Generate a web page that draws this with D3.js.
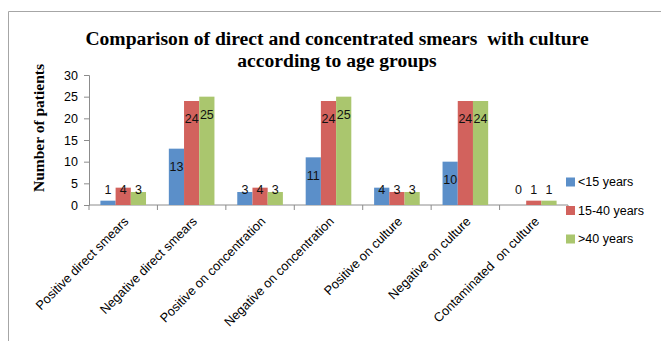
<!DOCTYPE html>
<html>
<head>
<meta charset="utf-8">
<script src="https://cdn.jsdelivr.net/npm/d3@7"></script>
<style>
  body { margin: 0; background: #fff; }
  .tick text { font-family: "Liberation Sans", Arial, sans-serif; }
  text { white-space: pre; }
</style>
</head>
<body>
<svg id="chart" width="661" height="341"></svg>
<script>
var categories = ["Positive direct smears", "Negative direct smears", "Positive on concentration",
  "Negative on concentration", "Positive on culture", "Negative on culture", "Contaminated  on culture"];
var groups = ["<15 years", "15-40 years", ">40 years"];
var under15 = [1, 13, 3, 11, 4, 10, 0];
var age15to40 = [4, 24, 4, 24, 3, 24, 1];
var over40 = [3, 25, 3, 25, 3, 24, 1];
var yTicks = [0, 5, 10, 15, 20, 25, 30];
var colors = ["#5b8fc9", "#d2625d", "#aac66e"];

var series = [under15, age15to40, over40];

var svg = d3.select("#chart");

// frame (right and bottom edges fall outside the picture)
svg.append("path")
    .attr("d", "M8.5,341V11.5H661")
    .attr("fill", "none")
    .attr("stroke", "#a6a6a6");

var x0 = d3.scaleBand().domain(categories).range([89, 568]);
var x1 = d3.scaleBand().domain(groups)
    .range([x0.bandwidth() * 0.75 / 4.5, x0.bandwidth() * 3.75 / 4.5]);
var y = d3.scaleLinear().domain([0, 30]).range([205, 75]);

// title
var title = svg.append("text")
    .attr("text-anchor", "middle")
    .style("font-family", "'Liberation Serif', 'Times New Roman', serif")
    .style("font-weight", "bold")
    .style("font-size", "19.6px")
    .attr("fill", "#000");
title.append("tspan").attr("x", 337).attr("y", 45).text("Comparison of direct and concentrated smears  with culture");
title.append("tspan").attr("x", 337).attr("y", 67).text("according to age groups");

// y axis title
svg.append("text")
    .attr("transform", "translate(44,128) rotate(-90)")
    .attr("text-anchor", "middle")
    .style("font-family", "'Liberation Serif', 'Times New Roman', serif")
    .style("font-weight", "bold")
    .style("font-size", "15.5px")
    .text("Number of patients");

// y axis
var yAxis = svg.append("g")
    .attr("transform", "translate(89,0)")
    .call(d3.axisLeft(y).tickValues(yTicks).tickSize(5).tickPadding(6));
yAxis.select(".domain").attr("stroke", "#8c8c8c");
yAxis.selectAll(".tick line").attr("stroke", "#8c8c8c");
yAxis.selectAll(".tick text").style("font-size", "12.5px").attr("fill", "#000");

// x axis with ticks on category boundaries
var xAxis = svg.append("g").attr("transform", "translate(0,205)");
xAxis.append("line")
    .attr("x1", x0.range()[0]).attr("x2", x0.range()[1])
    .attr("stroke", "#8c8c8c");
xAxis.selectAll(".bound")
    .data(categories.concat([null]))
    .enter().append("line")
    .attr("x1", function(d, i) { return x0.range()[0] + i * x0.step(); })
    .attr("x2", function(d, i) { return x0.range()[0] + i * x0.step(); })
    .attr("y1", 0).attr("y2", 5)
    .attr("stroke", "#8c8c8c");
xAxis.selectAll(".xlab")
    .data(categories)
    .enter().append("text")
    .attr("transform", function(d) {
      return "translate(" + (x0(d) + x0.bandwidth() / 2 + 3) + ",14) rotate(-45)";
    })
    .attr("text-anchor", "end")
    .attr("dy", "0.35em")
    .style("font-family", "'Liberation Sans', Arial, sans-serif")
    .style("font-size", "12.8px")
    .text(function(d) { return d; });

// bars
var cells = [];
categories.forEach(function(c, i) {
  groups.forEach(function(g, j) {
    cells.push({ cat: c, group: g, value: series[j][i], color: colors[j] });
  });
});

svg.append("g").selectAll("rect")
    .data(cells)
    .enter().append("rect")
    .attr("x", function(d) { return x0(d.cat) + x1(d.group); })
    .attr("width", x1.bandwidth())
    .attr("y", function(d) { return y(d.value); })
    .attr("height", function(d) { return y(0) - y(d.value); })
    .attr("fill", function(d) { return d.color; });

// data labels
svg.append("g").selectAll("text")
    .data(cells)
    .enter().append("text")
    .attr("x", function(d) { return x0(d.cat) + x1(d.group) + x1.bandwidth() / 2; })
    .attr("y", function(d) { return Math.min(y(d.value) + 18, 190); })
    .attr("dy", "0.35em")
    .attr("text-anchor", "middle")
    .style("font-family", "'Liberation Sans', Arial, sans-serif")
    .style("font-size", "12.5px")
    .attr("fill", "#111")
    .text(function(d) { return d.value; });

// legend
var legend = svg.append("g").selectAll("g")
    .data(groups)
    .enter().append("g")
    .attr("transform", function(d, i) { return "translate(566," + (182 + i * 28.5) + ")"; });
legend.append("rect")
    .attr("x", 0).attr("y", -4.5)
    .attr("width", 9).attr("height", 9)
    .attr("fill", function(d, i) { return colors[i]; });
legend.append("text")
    .attr("x", 12)
    .attr("dy", "0.35em")
    .style("font-family", "'Liberation Sans', Arial, sans-serif")
    .style("font-size", "12.5px")
    .text(function(d) { return d; });
</script>
</body>
</html>
